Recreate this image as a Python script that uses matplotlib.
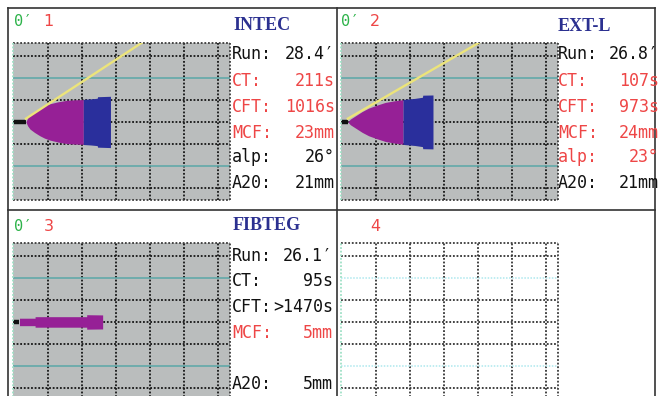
import matplotlib
matplotlib.use('Agg')
import matplotlib.pyplot as plt
from matplotlib.lines import Line2D

# ---------------- data ----------------
test_names = ['INTEC', 'EXT-L', 'FIBTEG']
panel_numbers = ['1', '2', '3', '4']

stat_labels = ['Run:', 'CT:', 'CFT:', 'MCF:', 'alp:', 'A20:']
intec_values = ['28.4′', '211s', '1016s', '23mm', '26°', '21mm']
intec_red = [0, 1, 1, 1, 0, 0]
extl_values = ['26.8′', '107s', '973s', '24mm', '23°', '21mm']
extl_red = [0, 1, 1, 1, 1, 0]
fibteg_labels = ['Run:', 'CT:', 'CFT:', 'MCF:', '', 'A20:']
fibteg_values = ['26.1′', '95s', '>1470s', '5mm', '', '5mm']
fibteg_red = [0, 0, 0, 1, 0, 0]

# traces: time (min) vs amplitude (mm)
intec_ct = 3.5
intec_purple_t = [3.5, 4.0, 4.7, 6.0, 7.6, 9.0, 10.6, 13.0, 15.5, 18.0, 20.4]
intec_purple_mm = [0.0, 3.5, 6.5, 9.5, 12.6, 14.8, 16.6, 18.4, 19.7, 20.2, 20.4]
intec_blue_t = [20.4, 22.5, 24.5, 24.6, 28.4]
intec_blue_mm = [20.6, 21.0, 21.6, 23.0, 23.4]
intec_alpha_t = [3.5, 38.0]
intec_alpha_mm = [1.5, 36.5]

extl_ct = 1.8
extl_purple_t = [1.8, 2.5, 4.0, 6.0, 7.9, 10.5, 12.8, 15.5, 18.0]
extl_purple_mm = [0.0, 2.5, 5.5, 9.5, 12.6, 15.5, 17.8, 19.3, 20.3]
extl_blue_t = [18.0, 21.5, 23.7, 23.8, 26.8]
extl_blue_mm = [20.5, 21.5, 22.5, 24.4, 24.6]
extl_alpha_t = [1.8, 40.7]
extl_alpha_mm = [1.5, 36.5]

fibteg_ct = 1.6
fibteg_t = [1.6, 6.2, 6.2, 21.4, 21.4, 26.1]
fibteg_mm = [3.4, 3.4, 4.8, 4.8, 6.6, 6.4]

grid_minutes = [10, 20, 30, 40, 50, 60]
grid_mm = [-30, -10, 0, 10, 30]
cyan_mm = [-20, 20]

# ---------------- style ----------------
RED = '#ee4646'
GREEN = '#2db34a'
TITLE_BLUE = '#2b3090'
PURPLE = '#962096'
BLUE = '#2a2f9c'
YELLOW = '#ece47a'
GRAY = '#babdbd'

W, H = 660, 396
fig = plt.figure(figsize=(W / 100, H / 100), dpi=100)
fig.patch.set_facecolor('white')


def px_axes(left, top, right, bottom):
    return fig.add_axes([left / W, (H - bottom) / H, (right - left) / W, (bottom - top) / H])


DOT = (0, (1, 1))


def setup(ax, face, gridcol, cyancol, cyanls):
    ax.set_facecolor(face)
    ax.set_xlim(-0.3, 63.6)
    ax.set_ylim(-35.6, 36.0)
    ax.set_xticks([])
    ax.set_yticks([])
    for x in grid_minutes:
        ax.axvline(x, color=gridcol, lw=1.3, ls=DOT, zorder=1)
    for y in grid_mm:
        ax.axhline(y, color=gridcol, lw=1.3, ls=DOT, zorder=1)
    for y in cyan_mm:
        ax.axhline(y, color=cyancol, lw=1.1, ls=cyanls, zorder=1)
    for s in ax.spines.values():
        s.set_visible(False)
    tr = ax.transAxes
    edge = '#3a3a3a'
    ax.add_line(Line2D([0, 1], [1, 1], transform=tr, color=edge, lw=1.3, ls=DOT, clip_on=False, zorder=2))
    ax.add_line(Line2D([0, 1], [0, 0], transform=tr, color=edge, lw=1.3, ls=DOT, clip_on=False, zorder=2))
    ax.add_line(Line2D([1, 1], [0, 1], transform=tr, color=edge, lw=1.3, ls=DOT, clip_on=False, zorder=2))
    ax.add_line(Line2D([0, 0], [0, 1], transform=tr, color='#9fe0c6', lw=1.3, ls=DOT, clip_on=False, zorder=2))


def trace(ax, ct, pt, pmm, bt=None, bmm=None, at=None, amm=None):
    ax.plot([0, ct], [0, 0], color='#111111', lw=3.2, solid_capstyle='butt', zorder=3)
    ax.fill_between(pt, [-v / 2 for v in pmm], [v / 2 for v in pmm],
                    color=PURPLE, lw=0, zorder=3)
    if bt is not None:
        ax.fill_between(bt, [-v / 2 for v in bmm], [v / 2 for v in bmm],
                        color=BLUE, lw=0, zorder=3)
    if at is not None:
        ax.plot(at, amm, color=YELLOW, lw=1.7, zorder=4, clip_on=True)


ax1 = px_axes(13, 43, 230, 200)
setup(ax1, GRAY, '#161616', '#5aa8a8', '-')
trace(ax1, intec_ct, intec_purple_t, intec_purple_mm, intec_blue_t, intec_blue_mm,
      intec_alpha_t, intec_alpha_mm)

ax2 = px_axes(340.7, 43, 558.3, 200)
setup(ax2, GRAY, '#161616', '#5aa8a8', '-')
trace(ax2, extl_ct, extl_purple_t, extl_purple_mm, extl_blue_t, extl_blue_mm,
      extl_alpha_t, extl_alpha_mm)

ax3 = px_axes(13, 243, 230, 400)
setup(ax3, GRAY, '#161616', '#5aa8a8', '-')
trace(ax3, fibteg_ct, fibteg_t, fibteg_mm)

ax4 = px_axes(340.7, 243, 558.3, 400)
setup(ax4, 'white', '#333333', '#aee8ee', DOT)

# ---------------- overlay: frame + text ----------------
ov = fig.add_axes([0, 0, 1, 1])
ov.set_xlim(0, W)
ov.set_ylim(H, 0)
ov.axis('off')
ov.patch.set_alpha(0)

fc = '#333333'
flw = 1.2
for xs, ys in [([7.5, 7.5], [7.5, H]), ([7.5, 655], [7.5, 7.5]), ([655, 655], [7.5, H]),
               ([336.5, 336.5], [7.5, H]), ([7.5, 655], [209.5, 209.5])]:
    ov.add_line(Line2D(xs, ys, color=fc, lw=flw))

mono = ['DejaVu Sans Mono', 'DejaVu Sans']
# panel headers
for (x0, y0, num, show0) in [(14, 21.5, '1', True), (340.7, 21.5, '2', True),
                             (14, 226.5, '3', True), (340.7, 226.5, '4', False)]:
    if show0:
        ov.text(x0, y0, '0′', color=GREEN, fontsize=11, family=mono, ha='left', va='center')
    ov.text(x0 + 29.5, y0, num, color=RED, fontsize=11.5, family='DejaVu Sans',
            ha='left', va='center')

title_font = dict(family='Liberation Serif', weight='bold', fontsize=13, color=TITLE_BLUE,
                  ha='left', va='center')
ov.text(233, 26, test_names[0], **title_font)
ov.text(558, 26.5, test_names[1], **title_font)
ov.text(233, 226, test_names[2], **title_font)

rows_top = [54, 81, 107, 132.5, 157.5, 183]
rows_bot = [256, 281, 307, 332.5, 357.5, 384]


def stats(xl, xr, ys, labels, values, red):
    for y, lab, val, r in zip(ys, labels, values, red):
        c = RED if r else '#111111'
        ov.text(xl, y, lab, color=c, fontsize=12, family=mono, ha='left', va='center')
        ov.text(xr, y, val, color=c, fontsize=12, family=mono, ha='right', va='center')


stats(232, 335, rows_top, stat_labels, intec_values, intec_red)
stats(558, 659, rows_top, stat_labels, extl_values, extl_red)
stats(232, 333, rows_bot, fibteg_labels, fibteg_values, fibteg_red)

fig.savefig('out.png', dpi=100, facecolor='white')
